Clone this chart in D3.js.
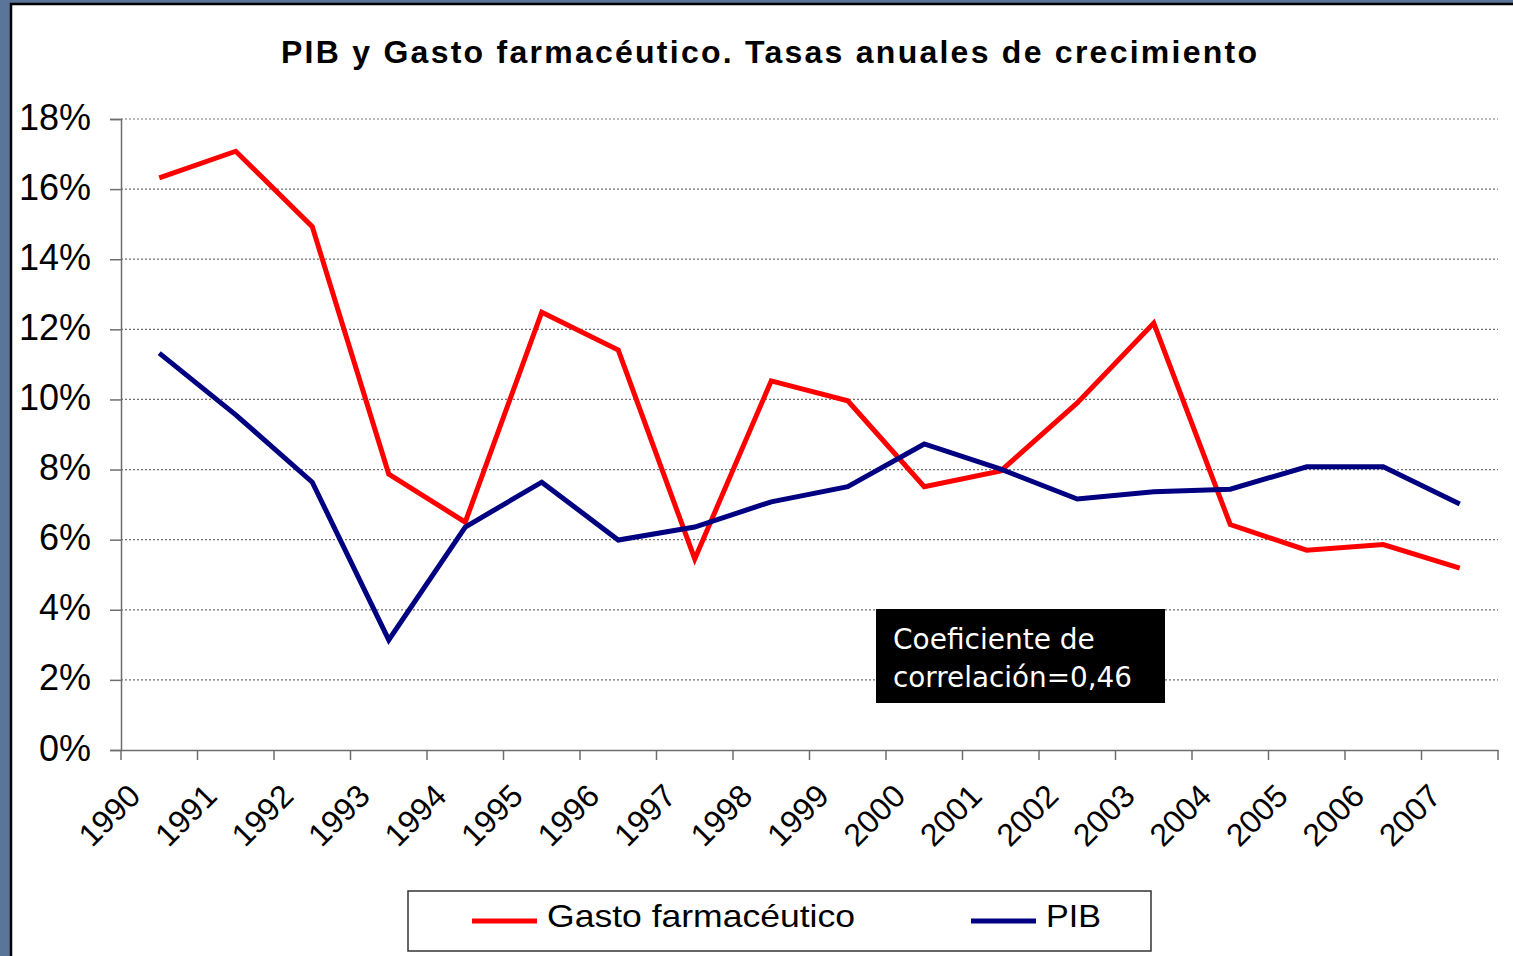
<!DOCTYPE html>
<html>
<head>
<meta charset="utf-8">
<script src="https://d3js.org/d3.v7.min.js"></script>
<style>
body {margin:0; padding:0; background:#5b7499; overflow:hidden;}
svg {display:block;}
</style>
</head>
<body>
<svg id="chart"></svg>
<script>
var years = ["1990","1991","1992","1993","1994","1995","1996","1997","1998","1999",
             "2000","2001","2002","2003","2004","2005","2006","2007"]
var gasto = [16.32,17.08,14.93,7.87,6.50,12.49,11.41,5.45,10.53,9.96,
             7.51,7.96,9.90,12.18,6.43,5.70,5.86,5.19]
var pib = [11.32,9.56,7.64,3.14,6.36,7.64,5.99,6.36,7.08,7.51,
           8.73,8.01,7.16,7.37,7.44,8.08,8.08,7.02]
var yTicks = [0,2,4,6,8,10,12,14,16,18]
var seriesNames = ["Gasto farmacéutico","PIB"]
var seriesColors = ["#ff0000","#000080"]

var drawFrame = function(svg,screen)
{
    svg.append("rect")
        .attr("x",0).attr("y",0)
        .attr("width",screen.width).attr("height",screen.height)
        .attr("fill","#5b7499")
    svg.append("rect")
        .attr("x",11).attr("y",4)
        .attr("width",screen.width+20).attr("height",screen.height+20)
        .attr("fill","white")
        .attr("stroke","black")
        .attr("stroke-width",2.5)
}

var createAxes = function(svg,margins,graph,xScale,yScale)
{
    var axes = svg.append("g").classed("axes",true)

    // dotted gridlines
    axes.append("g")
        .selectAll("line")
        .data(yTicks.filter(function(t){return t>0}))
        .enter()
        .append("line")
        .attr("x1",margins.left)
        .attr("x2",margins.left+graph.width)
        .attr("y1",function(t){return yScale(t)})
        .attr("y2",function(t){return yScale(t)})
        .attr("stroke","#707070")
        .attr("stroke-width",1.2)
        .attr("stroke-dasharray","2,2")

    var yAxis = d3.axisLeft(yScale)
        .tickValues(yTicks)
        .tickSize(11)
        .tickPadding(19)
        .tickFormat(function(d){return d+"%"})

    var xAxis = d3.axisBottom(xScale)
        .tickSize(0)
        .tickFormat("")

    var ya = axes.append("g")
        .attr("transform","translate("+margins.left+",0)")
        .call(yAxis)
    ya.select(".domain").attr("stroke","#6e6e6e").attr("stroke-width",1.5)
    ya.selectAll(".tick line").attr("stroke","#6e6e6e").attr("stroke-width",1.5)
    ya.selectAll(".tick text")
        .attr("font-family","'Liberation Sans', Arial, sans-serif")
        .attr("font-size",36)
        .attr("fill","black")
        .attr("dy","0.28em")

    var xa = axes.append("g")
        .attr("transform","translate(0,"+(margins.top+graph.height)+")")
        .call(xAxis)
    xa.select(".domain").attr("stroke","#6e6e6e").attr("stroke-width",1.5)

    // category boundary ticks
    var bounds = years.map(function(y){return xScale(y)})
    bounds.push(xScale(years[years.length-1])+xScale.step())
    xa.selectAll(".bound")
        .data(bounds)
        .enter()
        .append("line")
        .classed("bound",true)
        .attr("x1",function(d){return d})
        .attr("x2",function(d){return d})
        .attr("y1",0)
        .attr("y2",10)
        .attr("stroke","#6e6e6e")
        .attr("stroke-width",1.5)

    xa.selectAll(".yl")
        .data(years)
        .enter()
        .append("text")
        .classed("yl",true)
        .text(function(d){return d})
        .attr("text-anchor","end")
        .attr("font-family","'Liberation Sans', Arial, sans-serif")
        .attr("font-size",32)
        .attr("fill","black")
        .attr("transform",function(d)
            {
             var cx = xScale(d)+xScale.bandwidth()/2-17
             return "translate("+cx+",48) rotate(-45)"
            })
}

var drawLines = function(svg,xScale,yScale)
{
    var lineGenerator = d3.line()
        .x(function(v,i){return xScale(years[i])+xScale.bandwidth()/2})
        .y(function(v){return yScale(v)})

    var lines = svg.append("g").classed("lines",true)
    lines.append("path")
        .datum(gasto)
        .attr("d",lineGenerator)
        .attr("fill","none")
        .attr("stroke",seriesColors[0])
        .attr("stroke-width",5)
    lines.append("path")
        .datum(pib)
        .attr("d",lineGenerator)
        .attr("fill","none")
        .attr("stroke",seriesColors[1])
        .attr("stroke-width",5)
}

var createLabels = function(svg)
{
    svg.append("text")
        .text("PIB y Gasto farmacéutico. Tasas anuales de crecimiento")
        .attr("x",769)
        .attr("y",63)
        .attr("text-anchor","middle")
        .attr("font-family","'Liberation Sans', Arial, sans-serif")
        .attr("font-weight","bold")
        .attr("font-size",32)
        .attr("textLength",976)
        .attr("lengthAdjust","spacing")

    // correlation note
    var note = svg.append("g")
    note.append("rect")
        .attr("x",876).attr("y",609)
        .attr("width",289).attr("height",94)
        .attr("fill","black")
    note.append("text")
        .text("Coeficiente de")
        .attr("x",893).attr("y",649)
        .attr("fill","white")
        .attr("font-family","'DejaVu Sans', Tahoma, sans-serif")
        .attr("font-size",28)
    note.append("text")
        .text("correlación=0,46")
        .attr("x",893).attr("y",687)
        .attr("fill","white")
        .attr("font-family","'DejaVu Sans', Tahoma, sans-serif")
        .attr("font-size",28)
        .attr("textLength",239)
        .attr("lengthAdjust","spacingAndGlyphs")

    // legend
    var legend = svg.append("g")
    legend.append("rect")
        .attr("x",408).attr("y",891)
        .attr("width",743).attr("height",60)
        .attr("fill","white")
        .attr("stroke","#333")
        .attr("stroke-width",1.5)
    var items = legend.selectAll(".item")
        .data(seriesNames)
        .enter()
        .append("g")
        .classed("item",true)
        .attr("transform",function(d,i){return "translate("+[472,971][i]+",921)"})
    items.append("line")
        .attr("x1",0).attr("x2",65)
        .attr("y1",0).attr("y2",0)
        .attr("stroke",function(d,i){return seriesColors[i]})
        .attr("stroke-width",5)
    items.append("text")
        .text(function(d){return d})
        .attr("x",75)
        .attr("y",6)
        .attr("font-family","'Liberation Sans', Arial, sans-serif")
        .attr("font-size",32)
        .attr("fill","black")
        .attr("textLength",function(d,i){return [308,55][i]})
        .attr("lengthAdjust","spacingAndGlyphs")
}

var displayLineGraph = function(target)
{
    var screen = {width:1513, height:956}
    var margins = {top:119, left:121}
    var graph = {width:1377, height:631}

    var svg = d3.select(target)
        .attr("width",screen.width)
        .attr("height",screen.height)

    var xScale = d3.scaleBand()
        .domain(years)
        .range([margins.left,margins.left+graph.width])
        .padding(0)

    var yScale = d3.scaleLinear()
        .domain([0,18])
        .range([margins.top+graph.height,margins.top])

    drawFrame(svg,screen)
    createAxes(svg,margins,graph,xScale,yScale)
    drawLines(svg,xScale,yScale)
    createLabels(svg)
}

displayLineGraph("#chart")
</script>
</body>
</html>
